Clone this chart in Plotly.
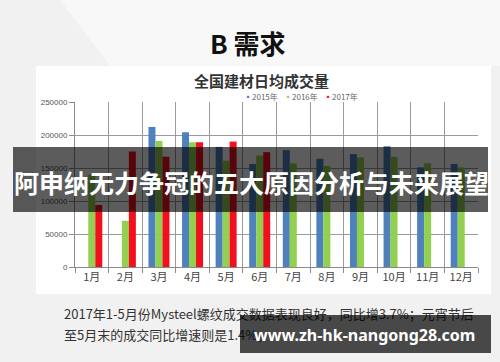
import plotly.graph_objects as go

# ---- data ----
months = ["1月", "2月", "3月", "4月", "5月", "6月", "7月", "8月", "9月", "10月", "11月", "12月"]
series_names = ["2015年", "2016年", "2017年"]
v2015 = [None, None, 212000, 204000, 182000, 156000, 177000, 164000, 171000, 183000, 151000, 156000]
v2016 = [140000, 70000, 191000, 189000, 161000, 169000, 157000, 153000, 166000, 167000, 157000, 151000]
v2017 = [94000, 175000, 167000, 189000, 190000, 174000, None, None, None, None, None, None]
y_ticks = [0, 50000, 100000, 150000, 200000, 250000]

slide_title = "B 需求"
chart_title = "全国建材日均成交量"
banner_text = "阿申纳无力争冠的五大原因分析与未来展望"
note_line1 = "2017年1-5月份Mysteel螺纹成交数据表现良好，同比增3.7%；元宵节后"
note_line2 = "至5月末的成交同比增速则是1.4%。"
watermark = "www.zh-hk-nangong28.com"

colors = ["#4F81BD", "#92D050", "#F20F1E"]

W, H = 500, 362
L, R, T, B = 75, 22, 102, 95
PW, PH = W - L - R, H - T - B


def px(x):
    return (x - L) / PW


def py(y):
    return (H - B - y) / PH


xs = list(range(1, len(months) + 1))
fig = go.Figure()
for name, vals, c in zip(series_names, [v2015, v2016, v2017], colors):
    fig.add_trace(go.Bar(x=xs, y=vals, name=name, marker=dict(color=c, line=dict(width=0))))

CJK = "Noto Sans CJK SC"
fig.update_layout(
    width=W, height=H,
    margin=dict(l=L, r=R, t=T, b=B, pad=0),
    paper_bgcolor="#f1f1f1",
    plot_bgcolor="white",
    barmode="group", bargap=0.375, bargroupgap=0,
    showlegend=False,
    font=dict(family=CJK, color="#555"),
)
fig.update_xaxes(
    range=[0.5, 12.5], tickmode="array", tickvals=xs, ticktext=months,
    ticks="", showgrid=False, showline=True, linecolor="#8a8a8a", linewidth=1,
    tickfont=dict(size=11, color="#444", family=CJK),
    minor=dict(tick0=0.5, dtick=1, showgrid=True, gridcolor="#9a9a9a", gridwidth=1,
               ticks="outside", ticklen=5, tickcolor="#8a8a8a"),
    zeroline=False,
)
fig.update_yaxes(
    range=[0, 250000], tickmode="array", tickvals=y_ticks, tickformat="d",
    ticks="outside", ticklen=5, tickcolor="#8a8a8a",
    showgrid=True, gridcolor="#9a9a9a", gridwidth=1,
    showline=True, linecolor="#8a8a8a", linewidth=1,
    tickfont=dict(size=8, color="#555", family="Liberation Sans"),
    zeroline=False,
)

shapes = []
# white chart panel
shapes.append(dict(type="rect", xref="paper", yref="paper", layer="below",
                   x0=px(36), x1=px(491), y0=py(294), y1=py(66),
                   fillcolor="white", line=dict(width=0)))
# upper slide region lighter
shapes.append(dict(type="path", xref="paper", yref="paper", layer="below",
                   path=f"M {px(60)} {py(0)} L {px(500)} {py(0)} L {px(500)} {py(66)} L {px(110)} {py(66)} Z",
                   fillcolor="#f8f8f8", line=dict(width=0)))
# banner
shapes.append(dict(type="rect", xref="paper", yref="paper", layer="above",
                   x0=px(13), x1=px(488), y0=py(212), y1=py(147),
                   fillcolor="rgba(0,0,0,0.64)", line=dict(width=0)))
# note text lines (as shape labels so the watermark box can cover them)
shapes.append(dict(type="rect", xref="paper", yref="paper", layer="above",
                   x0=px(61), x1=px(480), y0=py(323), y1=py(307),
                   fillcolor="rgba(0,0,0,0)", line=dict(width=0),
                   label=dict(text=note_line1, textposition="middle left", padding=0,
                              font=dict(size=13, color="#333", family=CJK))))
shapes.append(dict(type="rect", xref="paper", yref="paper", layer="above",
                   x0=px(61), x1=px(300), y0=py(344), y1=py(328),
                   fillcolor="rgba(0,0,0,0)", line=dict(width=0),
                   label=dict(text=note_line2, textposition="middle left", padding=0,
                              font=dict(size=13, color="#333", family=CJK))))
# watermark box
shapes.append(dict(type="rect", xref="paper", yref="paper", layer="above",
                   x0=px(240), x1=px(491), y0=py(353), y1=py(315),
                   fillcolor="rgba(0,0,0,0.7)", line=dict(width=0)))

annotations = [
    dict(text=f"<b>{slide_title}</b>", x=px(248), y=py(43), xref="paper", yref="paper",
         showarrow=False, xanchor="center", yanchor="middle",
         font=dict(size=26, color="#111", family=CJK)),
    dict(text=f"<b>{chart_title}</b>", x=px(261), y=py(80), xref="paper", yref="paper",
         showarrow=False, xanchor="center", yanchor="middle",
         font=dict(size=15, color="#333", family=CJK)),
    dict(text=f"<b>{banner_text}</b>", x=px(251), y=py(182), xref="paper", yref="paper",
         showarrow=False, xanchor="center", yanchor="middle",
         font=dict(size=25, color="white", family=CJK)),
    dict(text=f"<b>{watermark}</b>", x=px(364), y=py(335), xref="paper", yref="paper",
         showarrow=False, xanchor="center", yanchor="middle",
         font=dict(size=16, color="white", family="Noto Sans")),
]
for i, (name, c) in enumerate(zip(series_names, colors)):
    annotations.append(dict(
        text=f'<span style="color:{c}">▪</span>{name}', x=px(242 + 40 * i), y=py(96),
        xref="paper", yref="paper", showarrow=False, xanchor="left", yanchor="middle",
        font=dict(size=8, color="#666", family=CJK)))

fig.update_layout(shapes=shapes, annotations=annotations)
fig.write_html("out.html", config={"displayModeBar": False},
               post_script="document.body.style.margin='0';")
